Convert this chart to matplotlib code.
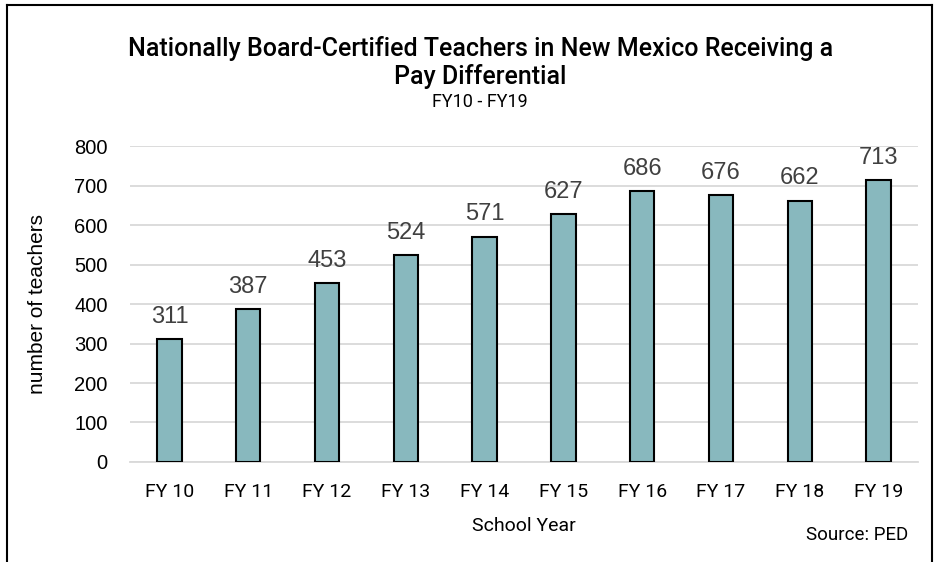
import matplotlib.pyplot as plt
from matplotlib.lines import Line2D
import numpy as np

# data
years = ['FY 10', 'FY 11', 'FY 12', 'FY 13', 'FY 14',
         'FY 15', 'FY 16', 'FY 17', 'FY 18', 'FY 19']
teachers = [311, 387, 453, 524, 571, 627, 686, 676, 662, 713]
y_ticks = [0, 100, 200, 300, 400, 500, 600, 700, 800]

NARROW = ['Roboto', 'DejaVu Sans']
plt.rcParams['font.family'] = ['Liberation Sans', 'DejaVu Sans']

fig = plt.figure(figsize=(9.38, 5.62), dpi=100)
ax = fig.add_axes([0.1386, 0.178, 0.840, 0.562])

x = np.arange(len(years))
ax.bar(x, teachers, width=0.31, color='#88b8be', edgecolor='black',
       linewidth=1.5, zorder=3)

# value labels above bars
for xi, v in zip(x, teachers):
    ax.annotate(f'{v}', (xi, v), xytext=(0, 8), textcoords='offset points',
                ha='center', va='bottom', fontsize=17, color='#404040')

ax.set_xlim(-0.5, len(years) - 0.5)
ax.set_ylim(0, 800)
ax.set_yticks(y_ticks)
ax.set_xticks(x)
ax.set_xticklabels(years, family=NARROW, fontsize=14)
ax.tick_params(axis='y', labelsize=14.5, length=0, pad=16)
ax.tick_params(axis='x', length=0, pad=15)

ax.grid(axis='y', color='#d9d9d9', linewidth=1.3, zorder=0)
for side in ['top', 'right', 'left']:
    ax.spines[side].set_visible(False)
ax.spines['bottom'].set_color('#d9d9d9')
ax.spines['bottom'].set_linewidth(1.3)

ax.set_ylabel('number of teachers', fontsize=15, labelpad=20)
ax.set_xlabel('School Year', family=NARROW, fontsize=14, labelpad=12)

# titles
fig.text(0.512, 0.914, 'Nationally Board-Certified Teachers in New Mexico Receiving a',
         ha='center', va='center', family=NARROW, fontsize=18, fontweight='medium')
fig.text(0.512, 0.864, 'Pay Differential',
         ha='center', va='center', family=NARROW, fontsize=18, fontweight='medium')
fig.text(0.512, 0.819, 'FY10 - FY19',
         ha='center', va='center', family=NARROW, fontsize=13)

fig.text(0.968, 0.048, 'Source: PED', ha='right', va='center',
         family=NARROW, fontsize=13.5)

# outer frame (left, top, right; bottom is cut off)
frame = dict(color='black', linewidth=1.5, transform=fig.transFigure)
fig.lines.append(Line2D([0.0075, 0.0075], [0.0, 0.991], **frame))
fig.lines.append(Line2D([0.0075, 0.994], [0.991, 0.991], **frame))
fig.lines.append(Line2D([0.994, 0.994], [0.0, 0.991], **frame))

fig.savefig('out.png', dpi=100)
plt.close(fig)
